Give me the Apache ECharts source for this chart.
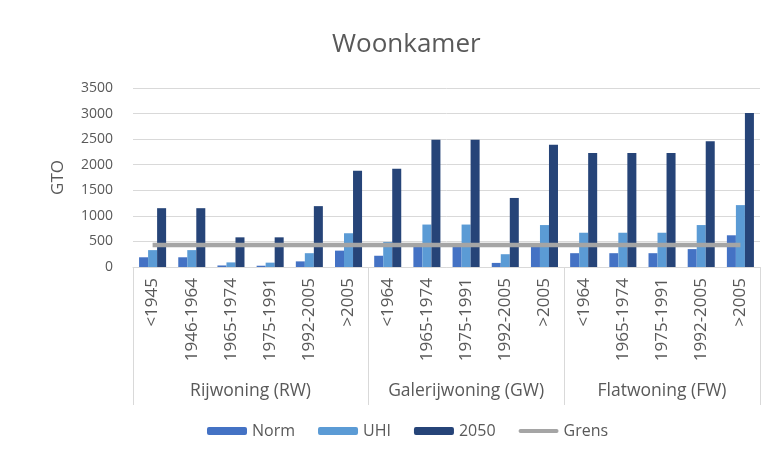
<!DOCTYPE html>
<html>
<head>
<meta charset="utf-8">
<script src="https://cdn.jsdelivr.net/npm/echarts@6/dist/echarts.min.js"></script>
<style>html,body{margin:0;padding:0;background:#fff}#c{width:772px;height:455px}</style>
</head>
<body>
<div id="c"></div>
<script>
const categories = ['<1945','1946-1964','1965-1974','1975-1991','1992-2005','>2005',
  '<1964','1965-1974','1975-1991','1992-2005','>2005',
  '<1964','1965-1974','1975-1991','1992-2005','>2005'];
const groups = ['Rijwoning (RW)','Galerijwoning (GW)','Flatwoning (FW)'];
const groupSizes = [6,5,5];
const norm = [190,190,30,25,110,320, 220,420,420,80,400, 270,270,270,350,620];
const uhi  = [330,330,90,85,270,660, 490,830,830,250,820, 670,670,670,820,1210];
const y2050 = [1150,1150,580,580,1190,1880, 1920,2490,2490,1350,2390, 2230,2230,2230,2460,3010];
const grens = categories.map(() => 430);
const yTicks = {min: 0, max: 3500, interval: 500};

// secondary (group) axis: 2N+1 slots, boundaryGap false
const nSlots = categories.length * 2 + 1;
const groupAxisData = new Array(nSlots).fill('');
const boundarySlots = new Set([0]);
let start = 0;
groups.forEach((g, i) => {
  groupAxisData[2 * start + groupSizes[i]] = g;
  start += groupSizes[i];
  boundarySlots.add(2 * start);
});

const FONT = 'Open Sans';
const TXT = '#595959';
const lineIcon = 'path://M0,0 M40,8 M2,2 H38 A2,2 0 0 1 38,6 H2 A2,2 0 0 1 2,2 Z';
const chart = echarts.init(document.getElementById('c'));
chart.setOption({
  animation: false,
  textStyle: {fontFamily: FONT},
  title: {text: 'Woonkamer', left: 327, top: 27,
    textStyle: {fontFamily: FONT, fontSize: 26, fontWeight: 'normal', color: TXT}},
  grid: {left: 133, right: 12, top: 88, bottom: 188},
  legend: {bottom: 11, left: 202, itemWidth: 40, itemHeight: 8, itemGap: 23,
    textStyle: {fontFamily: FONT, fontSize: 16, color: TXT},
    data: ['Norm', 'UHI', '2050', {name: 'Grens', icon: lineIcon}]},
  xAxis: [{
    type: 'category', data: categories, gridIndex: 0,
    axisLine: {lineStyle: {color: '#d9d9d9'}},
    axisTick: {show: false},
    axisLabel: {rotate: 90, interval: 0, margin: 11, color: TXT, fontSize: 17, fontFamily: FONT}
  }, {
    type: 'category', data: groupAxisData, gridIndex: 0, position: 'bottom',
    boundaryGap: false,
    axisLine: {show: false},
    axisTick: {show: true, length: 138, interval: (idx) => boundarySlots.has(idx),
      lineStyle: {color: '#d9d9d9'}},
    axisLabel: {interval: 0, margin: 115, color: TXT, fontSize: 17.5, fontFamily: FONT}
  }],
  yAxis: {
    type: 'value', min: yTicks.min, max: yTicks.max, interval: yTicks.interval,
    name: 'GTO', nameLocation: 'middle', nameRotate: 90, nameGap: 66,
    nameTextStyle: {fontFamily: FONT, fontSize: 17, color: TXT},
    axisLine: {show: false}, axisTick: {show: false},
    axisLabel: {color: TXT, fontSize: 14, fontFamily: FONT, margin: 20, formatter: (v) => String(v)},
    splitLine: {lineStyle: {color: '#d9d9d9'}}
  },
  series: [
    {name: 'Norm', type: 'bar', data: norm, barGap: '0%', barCategoryGap: '31%', itemStyle: {color: '#4472C4'}},
    {name: 'UHI', type: 'bar', data: uhi, barGap: '0%', barCategoryGap: '31%', itemStyle: {color: '#5B9BD5'}},
    {name: '2050', type: 'bar', data: y2050, barGap: '0%', barCategoryGap: '31%', itemStyle: {color: '#264478'}},
    {name: 'Grens', type: 'line', data: grens, symbol: 'none', z: 5,
      lineStyle: {color: '#A5A5A5', width: 4.5}, itemStyle: {color: '#A5A5A5'}}
  ]
});
</script>
</body>
</html>
